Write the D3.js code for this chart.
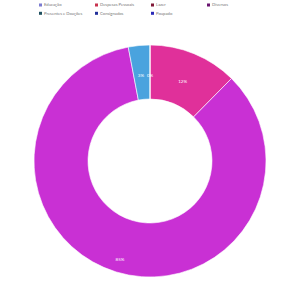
<!DOCTYPE html>
<html>
<head>
<meta charset="utf-8">
<script src="https://cdn.jsdelivr.net/npm/d3@7"></script>
<style>
  body { margin: 0; background: #fff; }
  svg { display: block; }
</style>
</head>
<body>
<div id="chart"></div>
<script>
// legend items (4 per row) and swatch colours
var legendLabels = ['Educação', 'Despesas Pessoais', 'Lazer', 'Diversos',
                    'Presentes e Doações', 'Consignados', 'Poupado']
var legendColors = ['#7b7bd0', '#c8324e', '#801838', '#6a1470',
                    '#1f5060', '#22309a', '#2a2ab8']

// slices, drawn clockwise from 12 o'clock
var sliceNames  = ['Despesas Pessoais', 'Poupado', 'Educação', 'Lazer']
var sliceValues = [12.4, 84.6, 3.0, 0.0001]
var sliceLabels = ['12%', '85%', '3%', '0%']
var sliceColors = ['#e0309a', '#c930d4', '#4aa3de', '#4aa3de']

var width = 300, height = 300
var cx = 150, cy = 161, outer = 116, inner = 62

var svg = d3.select('#chart').append('svg')
    .attr('width', width).attr('height', height)

// legend
var leg = svg.append('g').attr('class', 'legend')
var items = leg.selectAll('g').data(legendLabels).enter().append('g')
    .attr('transform', function(d, i) {
      return 'translate(' + (39 + (i % 4) * 56) + ',' + (5 + Math.floor(i / 4) * 8.3) + ')'
    })
items.append('rect')
    .attr('x', 0).attr('y', -1.5).attr('width', 3).attr('height', 3)
    .attr('fill', function(d, i) { return legendColors[i] })
items.append('text')
    .attr('x', 5).attr('y', 0).attr('dy', '0.35em')
    .attr('font-family', 'Lato, sans-serif').attr('font-size', 4.2)
    .attr('fill', '#777')
    .text(function(d) { return d })

// doughnut
var pie = d3.pie().sort(null).value(function(d) { return d })
var arcs = pie(sliceValues)
var arc = d3.arc().innerRadius(inner).outerRadius(outer)
var mid = (inner + outer) / 2 - 3

var g = svg.append('g').attr('transform', 'translate(' + cx + ',' + cy + ')')
g.selectAll('path').data(arcs).enter().append('path')
    .attr('d', arc)
    .attr('fill', function(d, i) { return sliceColors[i] })
    .attr('stroke', '#fff').attr('stroke-width', 0.6)

g.selectAll('text').data(arcs).enter().append('text')
    .attr('transform', function(d, i) {
      // the big slice's label sits further out in the original
      var r = i == 1 ? mid + 17 : mid
      var c = d3.arc().innerRadius(r).outerRadius(r).centroid(d)
      if (i == 2) c[0] -= 1
      return 'translate(' + c + ')'
    })
    .attr('text-anchor', 'middle').attr('dy', '0.35em')
    .attr('font-family', 'Lato, sans-serif').attr('font-size', 4.5)
    .attr('fill', '#fff')
    .text(function(d, i) { return sliceLabels[i] })
</script>
</body>
</html>
